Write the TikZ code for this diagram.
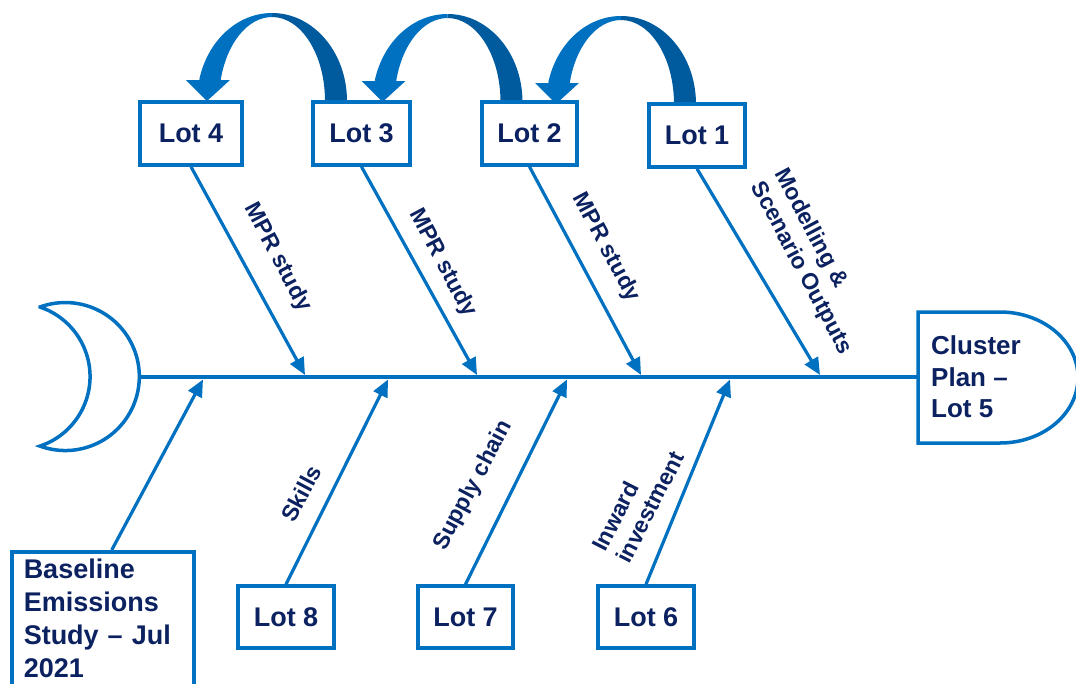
\documentclass[tikz,border=0pt]{standalone}
\usepackage{fontspec}
\setmainfont{Liberation Sans}
\usetikzlibrary{arrows.meta}
\definecolor{fbblue}{RGB}{0,112,192}
\definecolor{fbdark}{RGB}{0,90,158}
\definecolor{fbtext}{RGB}{12,34,96}

% Ribbon-style hop arrow: tail on the right, head dropping onto the box on the left.
% #1 = x of the arc centre, #2 = y of the tail base
\newcommand\curvedhop[2]{%
  \fill[fbdark] ({#1+75},#2) arc[start angle=0,end angle=-90,x radius=75,y radius=88]
    -- ({#1},{#2-84}) arc[start angle=-90,end angle=0,x radius=53,y radius=84] -- cycle;
  \fill[fbblue] ({#1},{#2-88}) arc[start angle=-90,end angle=-166,x radius=75,y radius=88]
    -- ({#1-51.4},{#2-20.3}) arc[start angle=-166,end angle=-90,x radius=53,y radius=84] -- cycle;
  \fill[fbblue] ({#1-86},{#2-21}) -- ({#1-42},{#2-21}) -- ({#1-65},{#2}) -- cycle;
}

\begin{document}
\begin{tikzpicture}[x=1pt,y=-1pt,
  lotbox/.style={draw=fbblue, line width=3.5pt, fill=white, text=fbtext,
    font=\fontsize{27}{32}\selectfont\bfseries, minimum height=63pt, inner sep=0pt},
  bone/.style={draw=fbblue, line width=3.2pt, -{Triangle[length=17pt,width=15pt]}},
  spine/.style={draw=fbblue, line width=4pt},
  outline/.style={draw=fbblue, line width=3.5pt},
  lbl/.style={font=\fontsize{23}{27}\selectfont\bfseries, text=fbtext, align=left, inner sep=0pt}]
\useasboundingbox (0,0) rectangle (1076,683);

% hops between the lots along the top
\curvedhop{272}{101}
\curvedhop{447.5}{102}
\curvedhop{621}{104}

% fish tail and head
\coordinate (tail) at (140,377);
\draw[outline, line join=miter] (40,307) arc[start angle=-110,end angle=110,radius=74]
  arc[start angle=71.5,end angle=-71.5,radius=73.3] -- cycle;
\draw[outline] (918,312) -- (1000,312)
  arc[start angle=-90,end angle=90,x radius=78,y radius=65.5] -- (918,443) -- cycle;
\node[anchor=west, align=left, inner xsep=13pt, inner ysep=0pt, text=fbtext,
  font=\fontsize{26}{31.5}\selectfont\bfseries] (plan) at (918,377)
  {Cluster\\Plan –\\Lot 5};

% spine
\draw[spine] (tail) -- (plan.west);

% upper lots
\node[lotbox, minimum width=102pt] (lot4) at (191,133.5) {Lot 4};
\node[lotbox, minimum width=97pt]  (lot3) at (361.5,133.5) {Lot 3};
\node[lotbox, minimum width=95pt]  (lot2) at (529.5,133.5) {Lot 2};
\node[lotbox, minimum width=96pt]  (lot1) at (697,135.5) {Lot 1};

% lower lots
\node[lotbox, minimum width=96pt, minimum height=62pt] (lot8) at (286,617) {Lot 8};
\node[lotbox, minimum width=95pt, minimum height=62pt] (lot7) at (465.5,617) {Lot 7};
\node[lotbox, minimum width=96pt, minimum height=62pt] (lot6) at (646,617) {Lot 6};
\node[draw=fbblue, line width=3.5pt, fill=white, text=fbtext, anchor=north west,
  font=\fontsize{27}{33}\selectfont\bfseries, align=left, text width=158pt,
  inner xsep=12pt, inner ysep=7.5pt] (base) at (10,550)
  {Baseline\\Emissions\\Study – Jul\\2021};

% points where the bones meet the spine
\coordinate (t4) at (305,375);
\coordinate (t3) at (477,375);
\coordinate (t2) at (641,375);
\coordinate (t1) at (820,375);
\coordinate (b0) at (203,379.5);
\coordinate (b8) at (388,379.5);
\coordinate (b7) at (567,379.5);
\coordinate (b6) at (730,379.5);

% bones
\draw[bone] (lot4.south) -- (t4);
\draw[bone] (lot3.south) -- (t3);
\draw[bone] (lot2.south) -- (t2);
\draw[bone] (lot1.south) -- (t1);
\draw[bone] ([xshift=9pt]base.north) -- (b0);
\draw[bone] (lot8.north) -- (b8);
\draw[bone] (lot7.north) -- (b7);
\draw[bone] (lot6.north) -- (b6);

% bone labels
\node[lbl, rotate=-62] (l4) at (277.5,257.5) {MPR study};
\node[lbl, rotate=-62] (l3) at (442.5,263) {MPR study};
\node[lbl, rotate=-62] (l2) at (606,247.5) {MPR study};
\node[lbl, rotate=-62] (l1) at (813,262) {Modelling \&\\Scenario Outputs};
\node[lbl, rotate=62] (l8) at (301,493.5) {Skills};
\node[lbl, rotate=62] (l7) at (473.5,485.5) {Supply chain};
\node[lbl, rotate=63] (l6) at (638,501) {Inward\\investment};
\end{tikzpicture}
\end{document}
